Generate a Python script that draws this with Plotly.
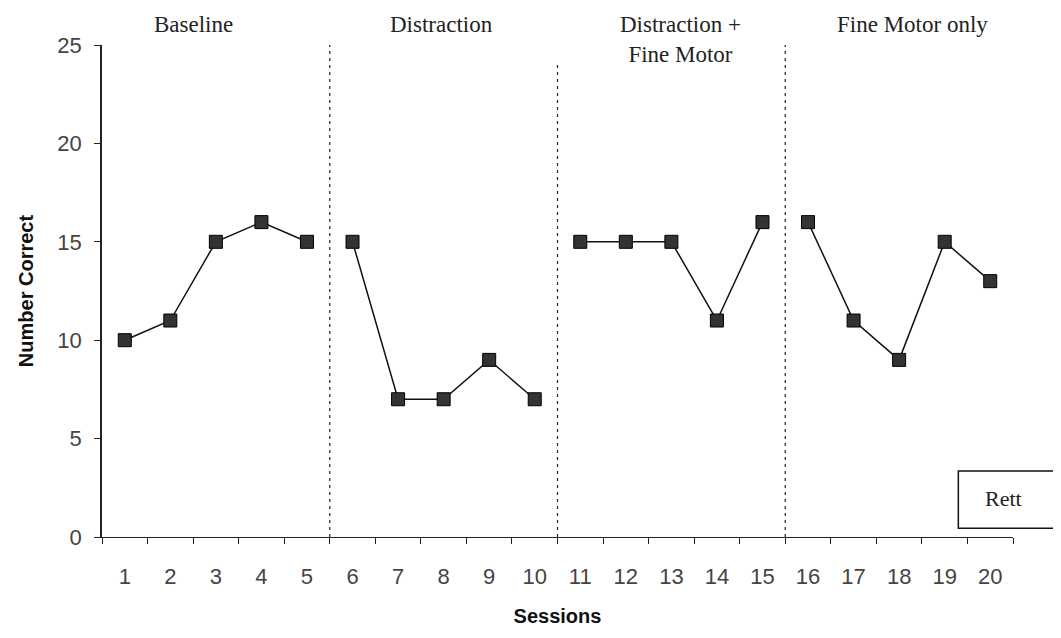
import plotly.graph_objects as go

sessions = list(range(1, 21))
number_correct = [10, 11, 15, 16, 15, 15, 7, 7, 9, 7, 15, 15, 15, 11, 16, 16, 11, 9, 15, 13]
phase_starts = [1, 6, 11, 16]
phase_ends = [5, 10, 15, 20]
phase_names = ["Baseline", "Distraction", "Distraction +<br>Fine Motor", "Fine Motor only"]
x_tick_labels = [str(s) for s in sessions]
y_ticks = [0, 5, 10, 15, 20, 25]

fig = go.Figure()
for s, e in zip(phase_starts, phase_ends):
    xs = [x for x in sessions if s <= x <= e]
    ys = [number_correct[x - 1] for x in xs]
    fig.add_trace(go.Scatter(
        x=xs, y=ys, mode="lines+markers",
        line=dict(color="#111", width=1.5),
        marker=dict(symbol="square", size=13, color="#333",
                    line=dict(color="#000", width=1)),
        showlegend=False, hoverinfo="x+y"))

# phase change lines
line_tops = [25, 24, 25.3]
for b, top in zip(phase_ends[:-1], line_tops):
    fig.add_shape(type="line", x0=b + 0.5, x1=b + 0.5, y0=0, y1=top,
                  xref="x", yref="y",
                  line=dict(color="#222", width=1.2, dash="3px,4px"))

# phase labels
label_pos = [(2.5, 1.072), (7.95, 1.072), (13.2, 1.072), (18.3, 1.072)]
for name, (lx, ly) in zip(phase_names, label_pos):
    fig.add_annotation(x=lx, y=ly, xref="x", yref="paper", text=name,
                       showarrow=False, yanchor="top", xanchor="center",
                       font=dict(family="Liberation Serif", size=23, color="#222"))

# Rett box
fig.add_shape(type="rect", xref="paper", yref="y", x0=0.94, x1=1.08,
              y0=0.45, y1=3.35, line=dict(color="#111", width=1.5),
              fillcolor="white", layer="above")
fig.add_annotation(xref="paper", yref="y", x=0.99, y=1.95, text="Rett",
                   showarrow=False, xanchor="center", yanchor="middle",
                   font=dict(family="Liberation Serif", size=22, color="#222"))

fig.update_layout(
    width=1053, height=622,
    margin=dict(l=94, r=48, t=37, b=93, autoexpand=False),
    plot_bgcolor="white", paper_bgcolor="white",
    font=dict(family="Liberation Sans", color="#333"),
)
fig.update_xaxes(
    range=[0.5, 20.5], tickmode="array", tickvals=sessions, ticktext=x_tick_labels,
    showgrid=False, zeroline=False, showline=True, linecolor="#222", linewidth=1,
    ticks="", ticklabelstandoff=20, tickfont=dict(size=22, color="#444"),
    automargin=False,
    title=dict(text="<b>Sessions</b>", font=dict(size=20, color="#111"), standoff=20),
    minor=dict(tickvals=[x + 0.5 for x in [0] + sessions], ticks="outside",
               ticklen=6, tickcolor="#222"),
)
fig.update_yaxes(
    range=[0, 25], tickvals=y_ticks, showgrid=False, zeroline=False,
    showline=True, linecolor="#222", linewidth=1.5,
    ticks="outside", ticklen=6, tickcolor="#222", ticklabelstandoff=8,
    tickfont=dict(size=22, color="#444"), automargin=False,
    title=dict(text="<b>Number Correct</b>", font=dict(size=20, color="#111"), standoff=18),
)

fig.write_html("out.html")
